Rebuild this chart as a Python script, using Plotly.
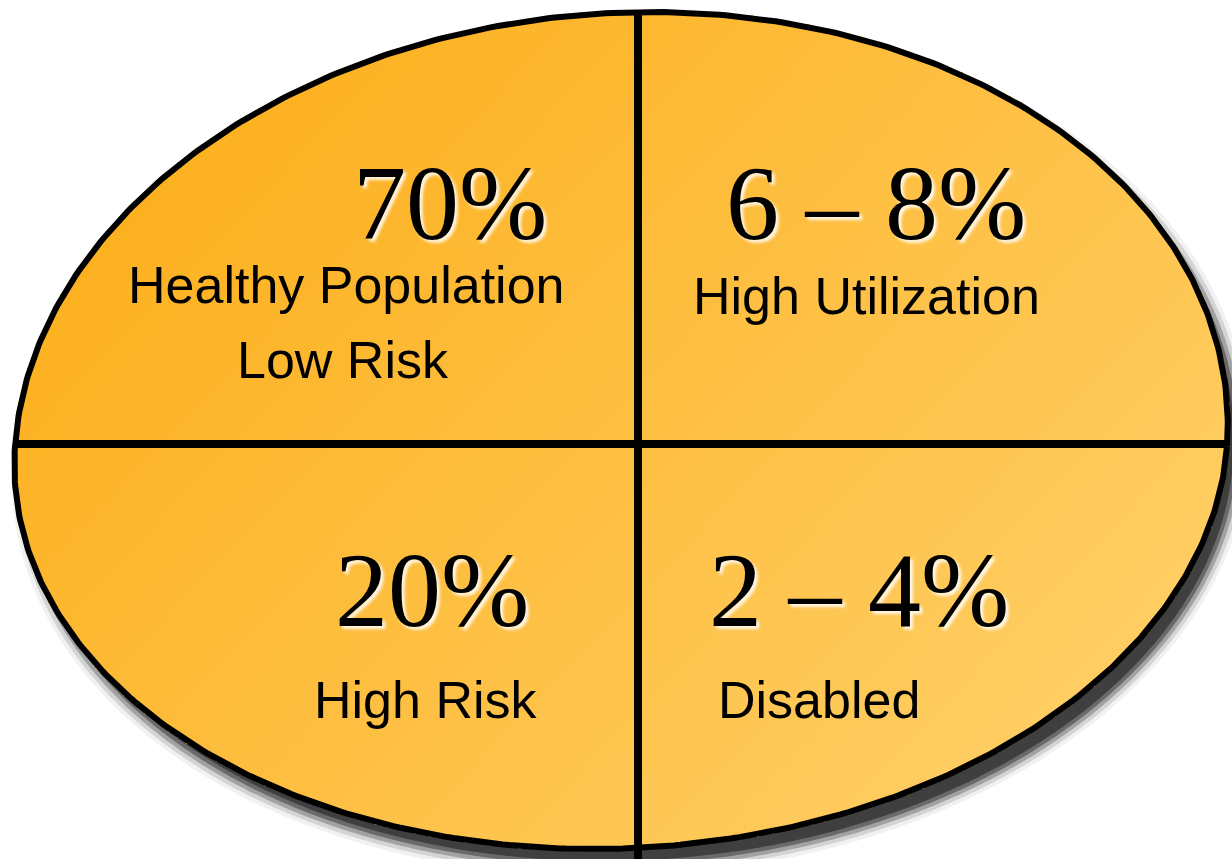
import numpy as np
import plotly.graph_objects as go

# ---- content ----
percent_labels = ["70%", "6 – 8%", "20%", "2 – 4%"]
group_labels = ["Healthy Population", "Low Risk", "High Utilization", "High Risk", "Disabled"]
# label anchor positions (pixel space of the 1232x859 canvas)
pct_x = [450, 876, 432, 859]
pct_y = [203, 203, 590, 590]
lab_x = [346, 343, 866, 425, 819]
lab_y = [285, 360, 296, 700, 700]

W, H = 1232, 859
# oval geometry
CX, CY, RX, RYT, RYB, K = 621.0, 446.0, 606.0, 434.0, 403.0, 0.07
VX, HY = 638.0, 444.0


def inside(X, Y, grow=0.0):
    ry = np.where(Y < CY, RYT, RYB) + grow
    xe = X - K * (CY - Y)
    return ((xe - CX) / (RX + grow)) ** 2 + ((Y - CY) / ry) ** 2 <= 1.0


def outline(grow=0.0, dx=0.0, dy=0.0, n=600):
    th = np.linspace(0, 2 * np.pi, n)
    s, c = np.sin(th), np.cos(th)
    ry = np.where(s < 0, RYT, RYB) + grow
    y = CY + ry * s
    x = CX + (RX + grow) * c + K * (CY - y)
    return x + dx, y + dy


def path_of(x, y):
    return "M " + " L ".join(f"{a:.2f},{b:.2f}" for a, b in zip(x, y)) + " Z"


fig = go.Figure()

# gradient fill via heatmap masked to the oval
step = 3
gx = np.arange(step / 2, W, step)
gy = np.arange(step / 2, H, step)
GX, GY = np.meshgrid(gx, gy)
t = (GX - 13) / 1217 * 0.6 + (GY - 9) / 843 * 0.4
z = np.where(inside(GX, GY, 1.5), t, np.nan)
fig.add_trace(go.Heatmap(
    x=gx, y=gy, z=z, zmin=0, zmax=1,
    colorscale=[[0, "#FCAB12"], [1, "#FFD370"]],
    showscale=False, hoverinfo="skip", zsmooth=False,
))

# outline
ox, oy = outline()
fig.add_trace(go.Scatter(x=ox, y=oy, mode="lines",
                         line=dict(color="black", width=6),
                         hoverinfo="skip", showlegend=False))

# dividers
ys = np.linspace(0, CY, 4000)
top_y = ys[np.argmax(inside(np.full_like(ys, VX), ys))]
xs = np.linspace(0, W, 6000)
ins = inside(xs, np.full_like(xs, HY))
left_x = xs[np.argmax(ins)]
right_x = xs[len(xs) - 1 - np.argmax(ins[::-1])]
fig.add_trace(go.Scatter(x=[VX, VX], y=[top_y, H + 5], mode="lines",
                         line=dict(color="black", width=8),
                         hoverinfo="skip", showlegend=False))
fig.add_trace(go.Scatter(x=[left_x, right_x], y=[HY, HY], mode="lines",
                         line=dict(color="black", width=8),
                         hoverinfo="skip", showlegend=False))

# drop shadow (below traces)
shapes = []
for grow, a in [(-4, 0.75), (0, 0.5), (4, 0.3), (8, 0.15), (12, 0.07)]:
    sx, sy = outline(grow, 10, 16)
    shapes.append(dict(type="path", path=path_of(sx, sy), xref="x", yref="y",
                       fillcolor=f"rgba(50,50,50,{a})", line=dict(width=0),
                       layer="below"))

annotations = []
for txt, x, y in zip(percent_labels, pct_x, pct_y):
    annotations.append(dict(
        text=txt, x=x, y=y, xref="x", yref="y", showarrow=False,
        xanchor="center", yanchor="middle",
        font=dict(family="Liberation Serif, Times New Roman, serif", size=106,
                  color="black", shadow="3px 3px 3px rgba(255,255,255,0.85)"),
    ))
for txt, x, y in zip(group_labels, lab_x, lab_y):
    annotations.append(dict(
        text=txt, x=x, y=y, xref="x", yref="y", showarrow=False,
        xanchor="center", yanchor="middle", align="center",
        font=dict(family="Liberation Sans, Arial, Helvetica, sans-serif", size=52,
                  color="black"),
    ))

fig.update_layout(
    width=W, height=H, margin=dict(l=0, r=0, t=0, b=0),
    paper_bgcolor="white", plot_bgcolor="white",
    xaxis=dict(range=[0, W], visible=False, fixedrange=True),
    yaxis=dict(range=[H, 0], visible=False, fixedrange=True),
    shapes=shapes, annotations=annotations, showlegend=False,
)
fig.write_html("out.html")
